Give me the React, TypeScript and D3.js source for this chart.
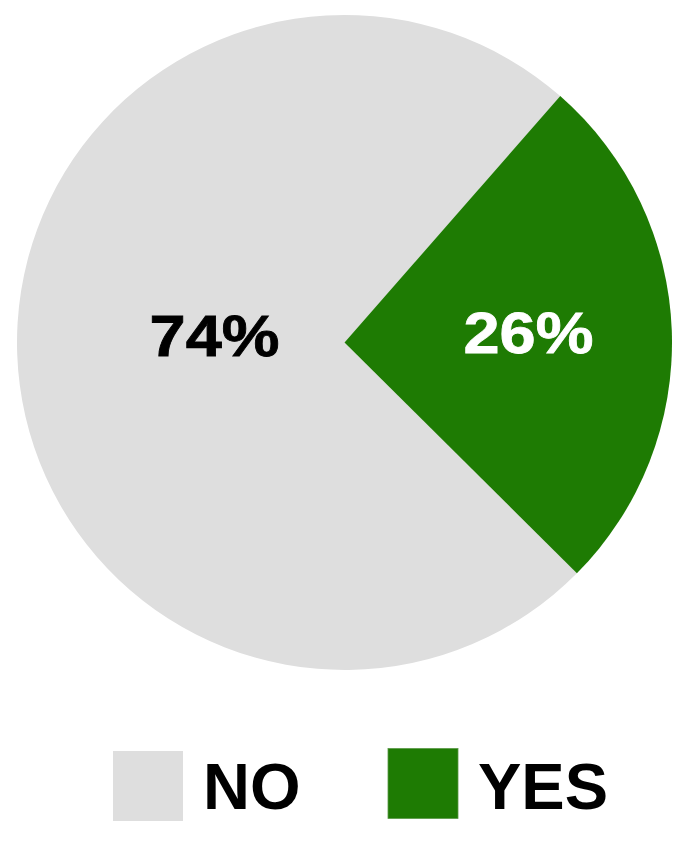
import React from "react";
import * as d3 from "d3";

const categories = ["NO", "YES"];
const values = [74, 26];
const labels = ["74%", "26%"];

const W = 686;
const H = 843;
const CX = 344.5;
const CY = 342.5;
const R = 327.5;
const START_DEG = 134.8;
const COLORS: Record<string, string> = { NO: "#DEDEDE", YES: "#1E7B03" };
const LABEL_COLORS: Record<string, string> = { NO: "#000000", YES: "#FFFFFF" };
const LABEL_R: Record<string, number> = { NO: 130, YES: 184 };
const LABEL_STYLE: Record<string, { size: number; sx: number; base: number }> = {
  NO: { size: 58, sx: 1.12, base: 13.5 },
  YES: { size: 58, sx: 1.12, base: 10.5 },
};
const FONT = "'Liberation Sans', Arial, sans-serif";

export default function App() {
  const data = categories.map((c, i) => ({ cat: c, value: values[i], label: labels[i] }));
  const start = (START_DEG * Math.PI) / 180;
  const pie = d3
    .pie<{ cat: string; value: number; label: string }>()
    .sort(null)
    .value((d) => d.value)
    .startAngle(start)
    .endAngle(start + 2 * Math.PI);
  const arcs = pie(data);
  const arc = d3.arc<d3.PieArcDatum<any>>().innerRadius(0).outerRadius(R);

  const legendX = d3.scalePoint<string>().domain(categories).range([113, 388]);

  return (
    <svg
      width={W}
      height={H}
      style={{ position: "absolute", left: 0, top: 0, background: "#fff" }}
    >
      <g transform={`translate(${CX},${CY})`}>
        {arcs.map((a) => (
          <path key={a.data.cat} d={arc(a) || ""} fill={COLORS[a.data.cat]} />
        ))}
        {arcs.map((a) => {
          const mid = (a.startAngle + a.endAngle) / 2;
          const lr = LABEL_R[a.data.cat];
          const st = LABEL_STYLE[a.data.cat];
          const x = lr * Math.sin(mid);
          return (
            <text
              key={"l" + a.data.cat}
              transform={`translate(${x},${st.base}) scale(${st.sx},1)`}
              textAnchor="middle"
              fontFamily={FONT}
              fontWeight="bold"
              fontSize={st.size}
              fill={LABEL_COLORS[a.data.cat]}
              stroke={LABEL_COLORS[a.data.cat]}
              strokeWidth={0.8}
            >
              {a.data.label}
            </text>
          );
        })}
      </g>
      <g>
        {categories.map((c, i) => (
          <g key={"lg" + c} transform={`translate(${legendX(c)},${i === 0 ? 751 : 748.5})`}>
            <rect
              width={70}
              height={70}
              fill={COLORS[c]}
              stroke={c === "YES" ? "#5A9A48" : "none"}
              strokeWidth={c === "YES" ? 0.8 : 0}
            />
            <text
              x={90}
              y={i === 0 ? 58 : 60.5}
              fontFamily={FONT}
              fontWeight="bold"
              fontSize={65}
              fill="#000"
            >
              {c}
            </text>
          </g>
        ))}
      </g>
    </svg>
  );
}
